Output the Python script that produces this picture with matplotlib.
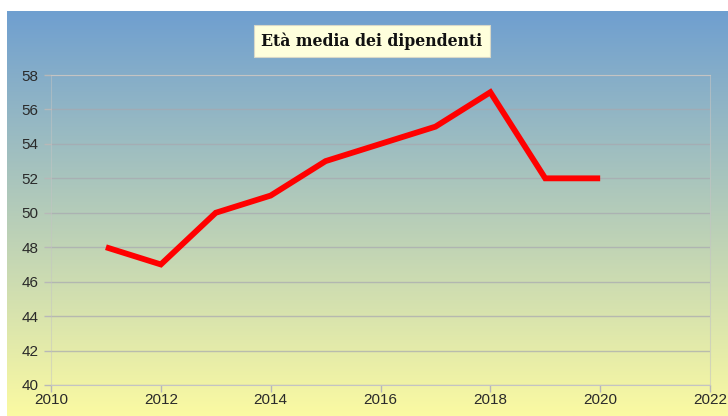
import numpy as np
import matplotlib.pyplot as plt
from matplotlib.colors import LinearSegmentedColormap

# -----------------------------
# DATA
# -----------------------------
anni = [2011, 2012, 2013, 2014, 2015, 2016, 2017, 2018, 2019, 2020]
eta_media = [48, 47, 50, 51, 53, 54, 55, 57, 52, 52]
x_ticks = [2010, 2012, 2014, 2016, 2018, 2020, 2022]
y_ticks = [40, 42, 44, 46, 48, 50, 52, 54, 56, 58]
titolo = "Età media dei dipendenti"

# -----------------------------
# FIGURE + GRADIENT BACKGROUND
# -----------------------------
W, H = 728, 416
fig = plt.figure(figsize=(W / 100, H / 100), dpi=100)
fig.patch.set_facecolor("white")

bg = fig.add_axes([7 / W, 0, (W - 7) / W, (H - 11) / H], zorder=0)
cmap = LinearSegmentedColormap.from_list("bg", ["#6f9fd0", "#fbfaa2"])
grad = np.linspace(0, 1, 256).reshape(-1, 1)
bg.imshow(grad, aspect="auto", cmap=cmap, extent=[0, 1, 0, 1], origin="upper")
bg.axis("off")

# -----------------------------
# LINE CHART
# -----------------------------
ax = fig.add_axes([51 / W, (H - 385) / H, (710 - 51) / W, (385 - 75) / H], zorder=1)
ax.patch.set_alpha(0)

ax.plot(anni, eta_media, color="#ff0000", linewidth=4.2, solid_joinstyle="miter",
        solid_capstyle="butt", zorder=3)

ax.set_xlim(2010, 2022)
ax.set_ylim(40, 58)
ax.set_xticks(x_ticks)
ax.set_yticks(y_ticks)
ax.grid(axis="y", color="#a8a8b0", linewidth=1, alpha=0.7)

for s in ax.spines.values():
    s.set_color("#c4c4c4")
    s.set_linewidth(0.8)
ax.spines["left"].set_alpha(0.5)
ax.spines["right"].set_alpha(0.6)

ax.tick_params(axis="both", colors="#b8b8b8", labelcolor="#2a2a2a", length=5,
               width=1, labelsize=11)
ax.tick_params(axis="y", pad=4)
ax.tick_params(axis="x", pad=1)
for lbl in ax.get_xticklabels() + ax.get_yticklabels():
    lbl.set_fontfamily("Liberation Sans")

fig.text(372 / W, 1 - 41 / H, titolo, ha="center", va="center",
         fontsize=11.3, fontweight="bold", family="DejaVu Serif", color="#111111",
         bbox=dict(boxstyle="square,pad=0.45", facecolor="#ffffdc", edgecolor="#d8d8c8",
                   linewidth=0.8))

plt.savefig("out.png", dpi=100)
